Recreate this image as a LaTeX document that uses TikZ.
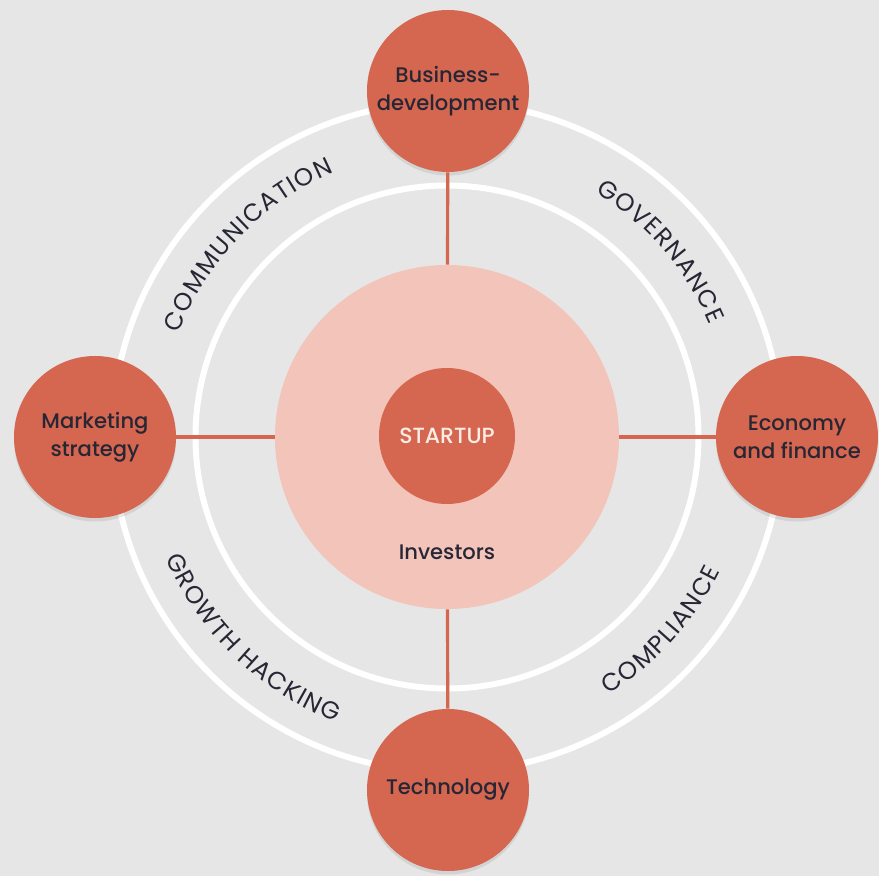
\documentclass[tikz,border=0pt]{standalone}
\usepackage{fontspec}
\setmainfont{Poppins Medium}
\newfontfamily\arcfamily{Poppins}
\usetikzlibrary{positioning}
\usetikzlibrary{decorations.text}
\usetikzlibrary{shadows}
\newcommand{\arcfont}{\arcfamily\fontsize{14}{16}\selectfont}
\tikzset{area/.style = {circle, fill=mcoral, minimum size=3.24cm, inner sep=0pt,
                        align=center, text=mink, font=\fontsize{12}{16}\selectfont,
                        drop shadow={shadow xshift=0pt, shadow yshift=-2pt, opacity=0.18}},
         ring/.style = {draw=white, line width=3.4pt},
         link/.style = {draw=mcoral, line width=1.8pt},
         curved/.style = {postaction={decorate},
                          decoration={text effects along path, text align=center, text={#1},
                                      text effects/.cd,
                                      characters={text along path, text=mink, font=\arcfont},
                                      character widths={inner xsep=0.4pt, font=\arcfont}}}}
\definecolor{mgrey}{HTML}{E6E6E6}
\definecolor{mcoral}{HTML}{D5664F}
\definecolor{mpink}{HTML}{F2C4BA}
\definecolor{mink}{HTML}{262635}
\definecolor{mcream}{HTML}{FBEDE6}

\begin{document}
\begin{tikzpicture}
    \fill [mgrey] (-8.94, -8.78) rectangle (8.64, 8.74);
    \useasboundingbox (-8.94, -8.78) rectangle (8.64, 8.74);

    \draw [ring] (0, 0) circle (6.7);
    \draw [ring] (0, 0) circle (5.03);

    \node [circle, fill=mpink, minimum size=6.88cm] (investors) at (0, 0) {};
    \node [circle, fill=mcoral, minimum size=2.72cm, text=mcream,
           font=\fontsize{12.5}{15}\selectfont] (startup) at (0, 0.02) {STARTUP};
    \node [text=mink, font=\fontsize{12}{15}\selectfont] (invlabel) at (0, -2.3) {Investors};

    \node [area] (bizdev) at (0.02, 6.92) {Business-\\development};
    \node [area] (marketing) at (-7.04, 0) {Marketing\\strategy};
    \node [area] (economy) at (7.0, 0) {Economy\\and finance};
    \node [area] (technology) at (0.02, -7.06) {Technology};

    \draw [link] (bizdev) -- (investors);
    \draw [link] (marketing) -- (investors);
    \draw [link] (economy) -- (investors);
    \draw [link] (technology) -- (investors);

    \path [curved=COMMUNICATION] (176:5.75) arc (176:96:5.75);
    \path [curved=GOVERNANCE] (81:5.72) arc (81:1:5.72);
    \path [curved=GROWTH HACKING] (186:6.12) arc (186:266:6.12);
    \path [curved=COMPLIANCE] (278:6.08) arc (278:358:6.08);
\end{tikzpicture}
\end{document}
